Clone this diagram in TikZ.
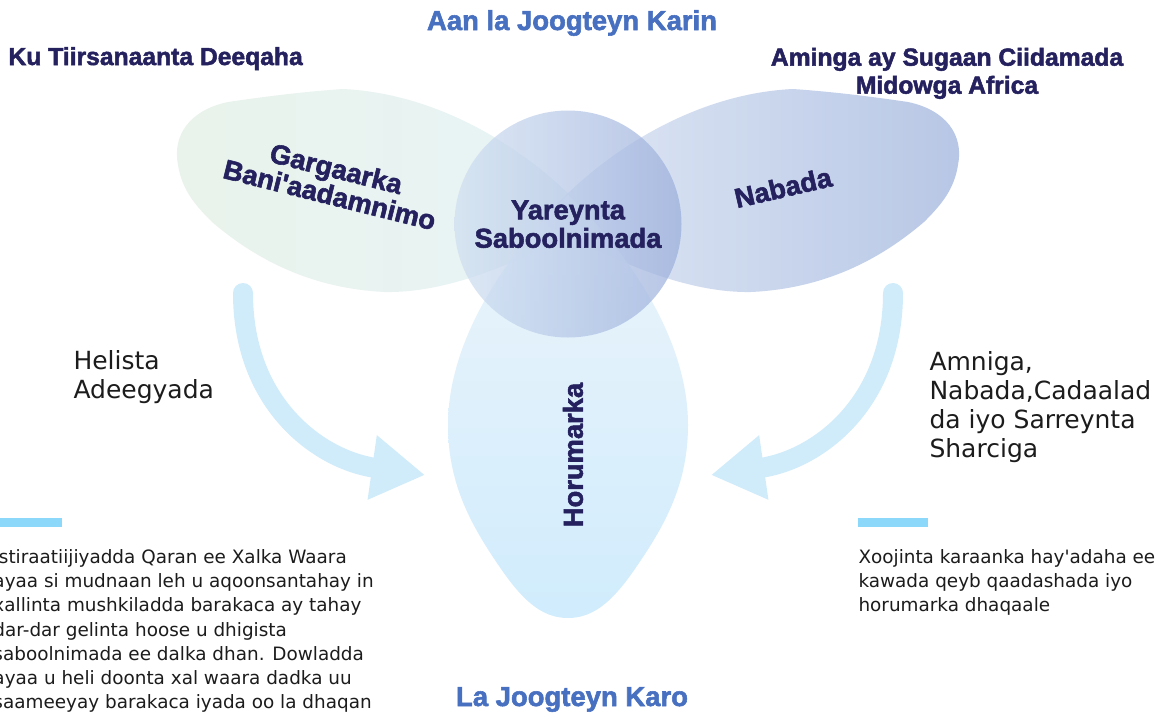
\documentclass[tikz,border=0pt]{standalone}
\usepackage{fontspec}
\newfontfamily\bodyfont{DejaVu Sans}
\newfontfamily\headfont{Liberation Sans}[BoldFeatures={FakeBold=2}]
\usetikzlibrary{arrows.meta}

\definecolor{navy}{RGB}{36,33,94}
\definecolor{titleblue}{RGB}{72,112,192}
\definecolor{inktext}{RGB}{28,28,28}
\definecolor{arrowblue}{RGB}{208,236,251}
\definecolor{barblue}{RGB}{139,216,251}
\definecolor{leafL}{RGB}{231,242,234}
\definecolor{leafR}{RGB}{230,242,246}
\definecolor{peaceL}{RGB}{222,231,245}
\definecolor{peaceR}{RGB}{176,193,227}
\definecolor{growT}{RGB}{234,243,251}
\definecolor{growB}{RGB}{204,235,252}
\definecolor{coreL}{RGB}{207,223,241}
\definecolor{coreR}{RGB}{154,173,219}

\tikzset{every picture/.style={line width=0.75pt},
  bigtitle/.style={font=\headfont\bfseries\fontsize{20.6}{24}\selectfont, text=titleblue, inner sep=0pt},
  headline/.style={font=\headfont\bfseries\fontsize{18.5}{21}\selectfont, text=navy, inner sep=0pt, align=center},
  blobtext/.style={font=\headfont\bfseries\fontsize{20.5}{21.3}\selectfont, text=navy, inner sep=0pt, align=center},
  sidetext/.style={font=\bodyfont\fontsize{18.75}{21.75}\selectfont, text=inktext, inner sep=0pt, align=left},
  paratext/.style={font=\bodyfont\fontsize{13.8}{18.15}\selectfont, text=inktext, inner sep=0pt, align=left},
  arrowflow/.style={draw=arrowblue, line width=15pt, line cap=round, -{Triangle[length=40pt,width=46pt]}},
}

\begin{document}
\begin{tikzpicture}[x=0.75pt,y=0.75pt,yscale=-1]
	\useasboundingbox (0,0) rectangle (1162,715);
	\fill [white] (0,0) rectangle (1162,715);

	%Shape: Left Petal
	\shade [left color=leafL, right color=leafR, fill opacity=0.9] (595,222) .. controls (545,162) and (450,94) .. (343,89) .. controls (300,92) and (262,97) .. (228,102) .. controls (190,110) and (172,135) .. (178,165) .. controls (182,190) and (195,205) .. (212,222) .. controls (245,250) and (300,288) .. (385,292) .. controls (450,293) and (520,262) .. (595,222) -- cycle ;
	%Shape: Right Petal
	\shade [left color=peaceL, right color=peaceR, fill opacity=0.9] (541,222) .. controls (591,162) and (686,94) .. (793,89) .. controls (836,92) and (874,97) .. (908,102) .. controls (946,110) and (964,135) .. (958,165) .. controls (954,190) and (941,205) .. (924,222) .. controls (891,250) and (836,288) .. (751,292) .. controls (686,293) and (616,262) .. (541,222) -- cycle ;
	%Shape: Bottom Petal
	\shade [top color=growT, bottom color=growB, fill opacity=0.9] (568,195) .. controls (520,240) and (448,330) .. (448,425) .. controls (448,480) and (468,520) .. (495,560) .. controls (520,598) and (540,618) .. (568,618) .. controls (596,618) and (616,598) .. (641,560) .. controls (668,520) and (688,480) .. (688,425) .. controls (688,330) and (616,240) .. (568,195) -- cycle ;
	%Shape: Circle
	\shade [left color=coreL, right color=coreR, fill opacity=0.7] (568,224) circle [radius=113.5] ;

	%Curve Arrows
	\coordinate (lstart) at (243,293);
	\coordinate (ltip) at (425,475);
	\coordinate (rstart) at (893,293);
	\coordinate (rtip) at (711,475);
	\draw [arrowflow] (lstart) .. controls (243,405) and (320,460) .. (ltip) ;
	\draw [arrowflow] (rstart) .. controls (893,405) and (816,460) .. (rtip) ;

	%Shape: Bars
	\fill [barblue] (-10,518) rectangle (62,527) ;
	\fill [barblue] (858,518) rectangle (928,527) ;

	% Text Node
	\node (toptitle) [bigtitle, anchor=base] at (572,30) {Aan la Joogteyn Karin};
	% Text Node
	\node (bottomtitle) [bigtitle, anchor=base] at (572,706) {La Joogteyn Karo};
	% Text Node
	\node (donorhead) [headline, anchor=base west] at (8,65) {Ku Tiirsanaanta Deeqaha};
	% Text Node
	\node (aulhead) [headline, anchor=north] at (947,47.3) {Aminga ay Sugaan Ciidamada\\Midowga Africa};
	% Text Node
	\node (corelabel) [blobtext, anchor=north] at (568,200) {Yareynta\\Saboolnimada};
	% Text Node
	\node (aidlabel) [blobtext, font=\headfont\bfseries\fontsize{20.5}{18.6}\selectfont, rotate=-14] at (333,181.5) {Gargaarka\\Bani'aadamnimo};
	% Text Node
	\node (peacelabel) [blobtext, rotate=13] at (783,187.5) {Nabada};
	% Text Node
	\node (growlabel) [blobtext, rotate=90] at (573,455) {Horumarka};
	% Text Node
	\node (servicetext) [sidetext, anchor=north west] at (73,350) {Helista\\Adeegyada};
	% Text Node
	\node (securitytext) [sidetext, anchor=north west] at (929,351) {Amniga,\\Nabada,Cadaalad\\da iyo Sarreynta\\Sharciga};
	% Text Node
	\node (strategytext) [paratext, anchor=north west] at (-7,549) {Istiraatiijiyadda Qaran ee Xalka Waara\\ayaa si mudnaan leh u aqoonsantahay in\\xallinta mushkiladda barakaca ay tahay\\dar-dar gelinta hoose u dhigista\\saboolnimada ee dalka dhan. Dowladda\\ayaa u heli doonta xal waara dadka uu\\saameeyay barakaca iyada oo la dhaqan};
	% Text Node
	\node (institutiontext) [paratext, anchor=north west] at (858,549) {Xoojinta karaanka hay'adaha ee\\kawada qeyb qaadashada iyo\\horumarka dhaqaale};

\end{tikzpicture}
\end{document}
